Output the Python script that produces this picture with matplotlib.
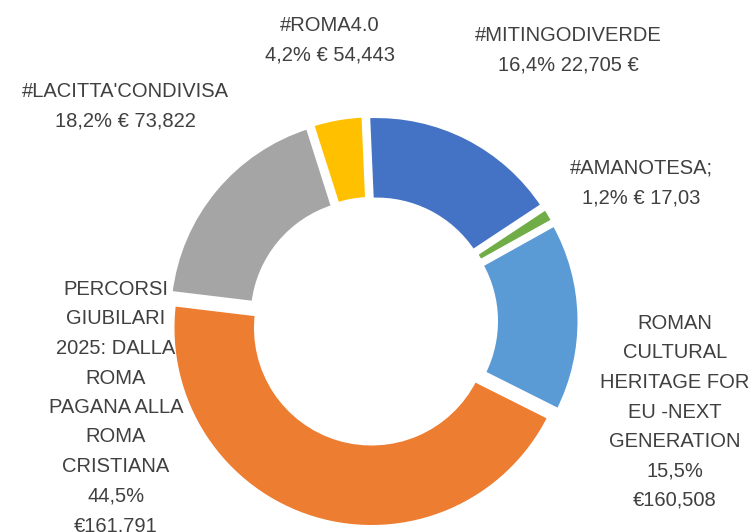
import matplotlib
matplotlib.use('Agg')
import matplotlib.pyplot as plt

# ── data ──────────────────────────────────────────────────────────────────────
categories = ["#MITINGODIVERDE", "#AMANOTESA;",
              "ROMAN\nCULTURAL\nHERITAGE FOR\nEU -NEXT\nGENERATION",
              "PERCORSI\nGIUBILARI\n2025: DALLA\nROMA\nPAGANA ALLA\nROMA\nCRISTIANA",
              "#LACITTA'CONDIVISA", "#ROMA4.0"]
shares  = [16.4, 1.2, 15.5, 44.5, 18.2, 4.2]
amounts = ["22,705 €", "€ 17,03", "€160,508", "€161,791", "€ 73,822", "€ 54,443"]
colors  = ["#4472C4", "#70AD47", "#5B9BD5", "#ED7D31", "#A5A5A5", "#FFC000"]

# label layout (pixel centre x, centre y of first line, separator pct/amount)
LAB_POS = [(568, 35), (641, 168), (675, 323), (116, 289), (125, 91), (330, 25)]
LAB_SEP = [" ", " ", "\n", "\n", " ", " "]

W_PX, H_PX = 749, 532
CX, CY = 373.5, 321.3          # donut centre (pixels, from top)
EDGE = 4.3                     # white border, px
R_OUT = 197 + EDGE / 2
RING = 79.5 + EDGE
EXPL = 7.0
TXT = '#404040'

plt.rcParams['font.family'] = ['Liberation Sans', 'DejaVu Sans']

fig = plt.figure(figsize=(W_PX / 100, H_PX / 100), dpi=100, facecolor='white')
ax = fig.add_axes([0, 0, 1, 1])

ax.pie(shares, colors=colors, startangle=92.5, counterclock=False,
       radius=R_OUT, center=(CX, H_PX - CY), explode=[EXPL] * len(shares),
       wedgeprops=dict(width=RING, edgecolor='white', linewidth=EDGE * 72 / 100))

ax.set_xlim(0, W_PX)
ax.set_ylim(0, H_PX)
ax.set_aspect('auto')
ax.axis('off')

# ── data labels ───────────────────────────────────────────────────────────────
for name, p, amt, (x, y), sep in zip(categories, shares, amounts, LAB_POS, LAB_SEP):
    pct = f"{p:.1f}%".replace('.', ',')
    ax.text(x, H_PX - (y - 9), f"{name}\n{pct}{sep}{amt}", ha='center', va='top',
            color=TXT, fontsize=14.5, linespacing=1.70, multialignment='center')

fig.savefig('out.png', dpi=100, facecolor='white')
